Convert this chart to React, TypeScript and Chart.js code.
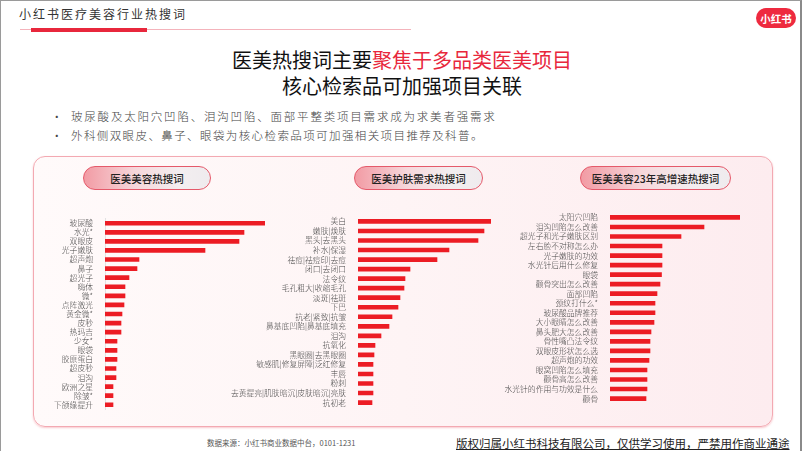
import React, { useEffect, useRef } from "react";
import { Chart, registerables } from "chart.js";

Chart.register(...registerables);

// ---- Data ----
const beautyLabels = [
  "玻尿酸", "水光*", "双眼皮", "光子嫩肤", "超声炮", "鼻子", "超光子", "嗨体", "微*", "点阵激光",
  "黄金微*", "皮秒", "热玛吉", "少女*", "眼袋", "胶原蛋白", "超皮秒", "泪沟", "欧洲之星", "除皱*", "下颌缘提升",
];
const beautyValues = [160, 139, 134, 100, 34, 32, 24, 20, 20, 19, 17, 16, 16, 12, 12, 12, 11, 11, 8, 8, 8];

const skinLabels = [
  "美白", "嫩肤|焕肤", "黑头|去黑头", "补水|保湿", "祛痘|祛痘印|去痘", "闭口|去闭口", "法令纹",
  "毛孔粗大|收缩毛孔", "淡斑|祛斑", "下巴", "抗老|紧致|抗皱", "鼻基底凹陷|鼻基底填充", "泪沟", "抗氧化",
  "黑眼圈|去黑眼圈", "敏感肌|修复屏障|泛红修复", "丰唇", "粉刺", "去黄提亮|肌肤暗沉|皮肤暗沉|亮肤", "抗初老",
];
const skinValues = [133, 126, 120, 91, 79, 52, 47, 46, 42, 40, 34, 31, 23, 17, 16, 15, 15, 15, 15, 14];

const growthLabels = [
  "太阳穴凹陷", "泪沟凹陷怎么改善", "超光子和光子嫩肤区别", "左右脸不对称怎么办", "光子嫩肤的功效",
  "水光针后用什么修复", "眼袋", "颧骨突出怎么改善", "面部凹陷", "颈纹打什么*", "玻尿酸品牌推荐",
  "大小眼睛怎么改善", "鼻头肥大怎么改善", "骨性嘴凸法令纹", "双眼皮形状怎么选", "超声炮的功效",
  "眼窝凹陷怎么填充", "颧骨高怎么改善", "水光针的作用与功效是什么", "颧骨",
];
const growthValues = [130, 94, 71, 52, 52, 52, 51.5, 50, 47, 45, 45, 44, 41, 40, 40, 39, 37, 37, 37, 36];

const panelTitles = ["医美美容热搜词", "医美护肤需求热搜词", "医美美容23年高增速热搜词"];

const CJK = '"Noto Sans CJK SC", "Noto Sans", sans-serif';
const RED = "#ec1c24";

type PanelProps = {
  labels: string[];
  values: number[];
  left: number;
  top: number;
  width: number;
  height: number;
  axisWidth: number;
  axisLine?: boolean;
};

function BarPanel({ labels, values, left, top, width, height, axisWidth, axisLine }: PanelProps) {
  const ref = useRef<HTMLCanvasElement | null>(null);
  useEffect(() => {
    if (!ref.current) return;
    const chart = new Chart(ref.current, {
      type: "bar",
      data: {
        labels,
        datasets: [{ data: values, backgroundColor: RED, barThickness: 4, borderWidth: 0 }],
      },
      options: {
        indexAxis: "y",
        animation: false,
        responsive: false,
        devicePixelRatio: 1,
        layout: { padding: 0 },
        plugins: { legend: { display: false }, tooltip: { enabled: false } },
        scales: {
          x: { display: false, min: 0, max: values[0] },
          y: {
            afterFit: (s: any) => {
              s.width = axisWidth;
            },
            grid: { display: false },
            border: { display: !!axisLine, color: "#e2e2e2" },
            ticks: {
              autoSkip: false,
              padding: 4,
              color: "#444",
              font: { size: 7.8, family: CJK, weight: "300" },
            },
          },
        },
      },
    });
    return () => chart.destroy();
  }, []);
  return (
    <canvas
      ref={ref}
      width={width}
      height={height}
      style={{ position: "absolute", left, top, width, height }}
    />
  );
}

function Pill({ left, width, text }: { left: number; width: number; text: string }) {
  return (
    <div
      style={{
        position: "absolute",
        left,
        top: 165,
        width,
        height: 24,
        boxSizing: "border-box",
        borderRadius: 12,
        border: "1px solid #e5596a",
        background: "linear-gradient(to right, #f29ba4 0%, #f6d6da 40%, #f3eef0 75%, #efebee 100%)",
        display: "flex",
        alignItems: "center",
        justifyContent: "center",
        fontSize: 10.5,
        fontWeight: 500,
        color: "#222",
        fontFamily: CJK,
      }}
    >
      {text}
    </div>
  );
}

export default function App() {
  return (
    <div
      style={{
        position: "absolute",
        left: 0,
        top: 0,
        width: 802,
        height: 451,
        boxSizing: "border-box",
        borderLeft: "1px solid #9a9a9a",
        borderTop: "1px solid #9a9a9a",
        borderRight: "2px solid #8a8a8a",
        background: "#fff",
        overflow: "hidden",
        fontFamily: CJK,
      }}
    >
      {/* header */}
      <div style={{ position: "absolute", left: 18, top: 4, fontSize: 12, letterSpacing: 2, color: "#333", whiteSpace: "nowrap" }}>
        小红书医疗美容行业热搜词
      </div>
      <div style={{ position: "absolute", left: 19, top: 28, width: 391, height: 1, background: "#f4b3bb" }} />
      <div style={{ position: "absolute", left: 30, top: 27, width: 116, height: 4, background: "#e8273c" }} />
      {/* logo */}
      <div
        style={{
          position: "absolute",
          left: 755,
          top: 7,
          width: 40,
          height: 20,
          borderRadius: 10,
          background: "#ee2a3f",
          color: "#fff",
          fontSize: 10.5,
          fontWeight: 700,
          display: "flex",
          alignItems: "center",
          justifyContent: "center",
        }}
      >
        小红书
      </div>

      {/* titles */}
      <div style={{ position: "absolute", left: 0, width: 802, top: 46, textAlign: "center", fontSize: 20, fontWeight: 400, color: "#111", lineHeight: "26px" }}>
        医美热搜词主要<span style={{ color: "#e8273c" }}>聚焦于多品类医美项目</span>
      </div>
      <div style={{ position: "absolute", left: 0, width: 802, top: 72, textAlign: "center", fontSize: 20, fontWeight: 400, color: "#111", lineHeight: "26px" }}>
        核心检索品可加强项目关联
      </div>

      {/* bullets */}
      <div style={{ position: "absolute", left: 50, top: 106, fontSize: 11.5, color: "#444", lineHeight: "18px", whiteSpace: "nowrap", fontWeight: 300 }}>
        <div>
          <span style={{ display: "inline-block", width: 20 }}>•</span>
          <span style={{ letterSpacing: 1.8 }}>玻尿酸及太阳穴凹陷、泪沟凹陷、面部平整类项目需求成为求美者强需求</span>
        </div>
        <div style={{ marginTop: 1 }}>
          <span style={{ display: "inline-block", width: 20 }}>•</span>
          <span style={{ letterSpacing: 1.4 }}>外科侧双眼皮、鼻子、眼袋为核心检索品项可加强相关项目推荐及科普。</span>
        </div>
      </div>

      {/* card */}
      <div
        style={{
          position: "absolute",
          left: 32,
          top: 155,
          width: 740,
          height: 271,
          boxSizing: "border-box",
          border: "1px solid #f3a9b2",
          borderRadius: 12,
          background: "linear-gradient(to right, #fffafa 0%, #fef4f5 50%, #fdecef 100%)",
          boxShadow: "0 1px 2px rgba(232,39,60,0.25)",
        }}
      />

      <Pill left={82} width={128} text={panelTitles[0]} />
      <Pill left={353} width={129} text={panelTitles[1]} />
      <Pill left={579} width={151} text={panelTitles[2]} />

      <BarPanel labels={beautyLabels} values={beautyValues} left={36} top={209} width={228} height={208} axisWidth={68} axisLine />
      <BarPanel labels={skinLabels} values={skinValues} left={218} top={207} width={272} height={208} axisWidth={139} />
      <BarPanel labels={growthLabels} values={growthValues} left={503} top={203} width={236} height={208} axisWidth={106} />

      {/* footer */}
      <div style={{ position: "absolute", left: 206, top: 436, fontSize: 7.5, color: "#555", whiteSpace: "nowrap" }}>
        数据来源：小红书商业数据中台，0101-1231
      </div>
      <div
        style={{
          position: "absolute",
          left: 455,
          top: 434,
          fontSize: 11.5,
          color: "#222",
          whiteSpace: "nowrap",
          textDecoration: "underline",
          letterSpacing: 0,
        }}
      >
        版权归属小红书科技有限公司，仅供学习使用，严禁用作商业通途
      </div>
    </div>
  );
}
